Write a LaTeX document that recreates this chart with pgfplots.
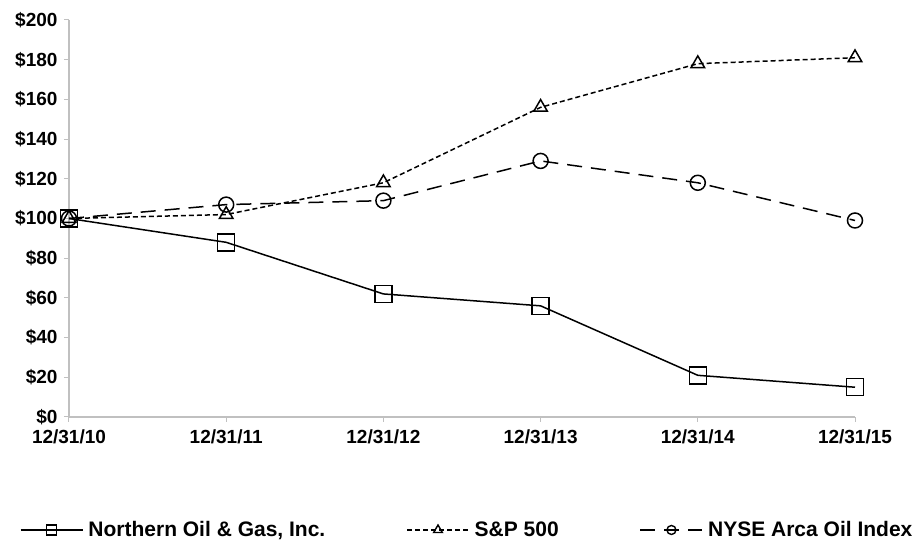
\documentclass[border=0pt]{standalone}
\usepackage{fontspec}
\setmainfont{Liberation Sans}
\usepackage{pgfplots}
\pgfplotsset{compat=1.18}
\definecolor{axgray}{HTML}{C0C0C0}

\begin{document}
\begin{tikzpicture}
\begin{axis}[
  name=ax,
  width=786pt, height=397pt, scale only axis,
  xmin=0, xmax=5, ymin=0, ymax=200,
  xtick={0,...,5},
  xticklabels={12/31/10,12/31/11,12/31/12,12/31/13,12/31/14,12/31/15},
  ytick={0,20,...,200},
  yticklabel={\$\pgfmathprintnumber{\tick}},
  /pgf/number format/assume math mode=true,
  axis x line=bottom, axis y line=left,
  axis line style={axgray, line width=1.2pt, -},
  tick align=outside, major tick length=5pt,
  tick style={axgray, line width=1pt},
  ticklabel style={font=\fontsize{19}{20}\selectfont\bfseries},
  xticklabel style={yshift=-4pt},
  yticklabel style={xshift=-3pt},
  clip=false,
  legend style={at={(-0.0623,-0.2846)}, anchor=west, draw=none, fill=none,
    inner sep=0pt, outer sep=0pt, legend columns=3,
    /tikz/every odd column/.append style={column sep=3pt},
    /tikz/every even column/.append style={column sep=79pt},
    font=\fontsize{21}{23}\selectfont\bfseries},
  legend cell align=left,
  legend image code/.code={\draw[mark repeat=2,mark phase=2]
    plot coordinates {(0pt,0pt)(31pt,0pt)(62pt,0pt)};},
]

% Northern Oil & Gas, Inc.
\addplot[forget plot, black, line width=1.5pt, mark=square, mark size=8.5pt, mark options={solid}]
  coordinates {(0,100) (1,88) (2,62) (3,56) (4,21) (5,15)};

% S&P 500
\addplot[forget plot, black, line width=1.5pt, dash pattern=on 5pt off 3pt, mark=triangle, mark size=7.8pt, mark options={solid}]
  coordinates {(0,100) (1,102) (2,118) (3,156) (4,178) (5,181)};

% NYSE Arca Oil Index
\addplot[forget plot, black, line width=1.5pt, dash pattern=on 15pt off 9pt, mark=o, mark size=7.5pt, mark options={solid}]
  coordinates {(0,100) (1,107) (2,109) (3,129) (4,118) (5,99)};

\addlegendimage{black, line width=1.4pt, mark=square, mark size=5pt, mark options={solid}}
\addlegendimage{black, line width=1.4pt, dash pattern=on 5pt off 3pt, mark=triangle, mark size=5pt, mark options={solid}}
\addlegendimage{black, line width=1.4pt, dash pattern=on 15pt off 9pt, mark=o, mark size=4.5pt, mark options={solid}}
\legend{{Northern Oil \& Gas, Inc.}, S\&P 500, NYSE Arca Oil Index}
\end{axis}
\pgfresetboundingbox
\useasboundingbox ([xshift=-69pt,yshift=-131pt]ax.south west) rectangle ++(918pt,548pt);
\end{tikzpicture}
\end{document}
